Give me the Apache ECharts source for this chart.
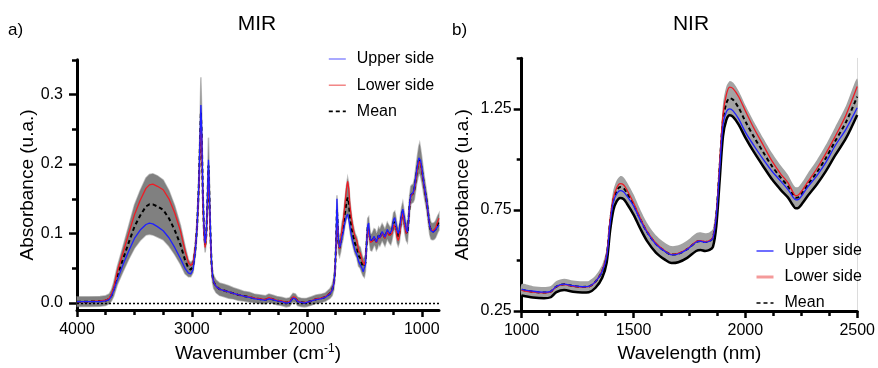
<!DOCTYPE html>
<html>
<head>
<meta charset="utf-8">
<script src="https://cdn.jsdelivr.net/npm/echarts@6/dist/echarts.min.js"></script>
<style>html,body{margin:0;padding:0;background:#fff}#c{width:878px;height:368px}</style>
</head>
<body>
<div id="c"></div>
<script>
// ---------- MIR data ----------
const mirWn = [4000,3900,3800,3750,3720,3700,3680,3650,3600,3550,3500,3450,3400,3370,3340,3300,3250,3200,3150,3100,3060,3030,3010,2990,2970,2955,2940,2930,2922,2915,2905,2895,2885,2875,2865,2856,2848,2840,2830,2820,2810,2790,2760,2720,2680,2640,2600,2550,2500,2450,2400,2360,2330,2300,2260,2220,2180,2150,2120,2100,2080,2050,2020,2000,1960,1920,1880,1840,1800,1780,1765,1755,1745,1738,1732,1725,1715,1705,1695,1685,1670,1655,1645,1635,1625,1610,1595,1580,1565,1550,1535,1520,1510,1500,1490,1480,1470,1462,1455,1445,1435,1425,1415,1405,1395,1385,1375,1365,1355,1345,1335,1320,1310,1300,1290,1280,1270,1260,1245,1235,1225,1215,1205,1195,1185,1175,1165,1155,1145,1135,1125,1115,1105,1095,1085,1075,1065,1055,1045,1035,1025,1018,1010,1000,990,980,970,960,950,940,930,920,910,900,890,880,870,860,850];
const mirUpper = [0.002,0.002,0.002,0.003,0.005,0.010,0.018,0.033,0.055,0.075,0.093,0.105,0.113,0.115,0.114,0.110,0.104,0.094,0.080,0.064,0.050,0.043,0.042,0.048,0.075,0.110,0.170,0.235,0.285,0.250,0.160,0.110,0.086,0.100,0.150,0.206,0.160,0.110,0.060,0.038,0.030,0.024,0.020,0.018,0.016,0.014,0.012,0.010,0.008,0.006,0.005,0.004,0.006,0.005,0.003,0.002,0.000,0.001,0.007,0.006,0.002,0.001,0.000,0.001,0.003,0.005,0.006,0.008,0.013,0.018,0.028,0.045,0.090,0.150,0.120,0.090,0.080,0.085,0.095,0.100,0.115,0.125,0.128,0.120,0.110,0.095,0.085,0.075,0.070,0.060,0.058,0.050,0.045,0.044,0.055,0.085,0.112,0.115,0.100,0.090,0.088,0.092,0.096,0.095,0.088,0.092,0.098,0.094,0.098,0.103,0.100,0.095,0.100,0.106,0.103,0.100,0.098,0.105,0.120,0.123,0.115,0.105,0.100,0.105,0.118,0.128,0.135,0.125,0.115,0.106,0.102,0.120,0.145,0.156,0.158,0.159,0.165,0.178,0.190,0.200,0.209,0.211,0.205,0.195,0.182,0.170,0.160,0.150,0.138,0.123,0.110,0.104,0.103,0.102,0.103,0.105,0.108,0.110,0.112];
const mirLower = [0.002,0.002,0.003,0.004,0.007,0.013,0.022,0.045,0.072,0.100,0.127,0.148,0.165,0.170,0.171,0.168,0.163,0.150,0.130,0.104,0.075,0.058,0.054,0.058,0.080,0.110,0.165,0.220,0.265,0.235,0.150,0.100,0.080,0.095,0.140,0.190,0.150,0.100,0.058,0.037,0.030,0.024,0.020,0.018,0.016,0.014,0.012,0.010,0.009,0.007,0.006,0.005,0.008,0.006,0.004,0.003,0.001,0.002,0.009,0.008,0.003,0.001,0.001,0.001,0.003,0.006,0.007,0.009,0.014,0.019,0.028,0.045,0.085,0.125,0.110,0.085,0.078,0.090,0.105,0.115,0.140,0.165,0.175,0.165,0.140,0.120,0.105,0.095,0.090,0.075,0.072,0.062,0.058,0.055,0.062,0.085,0.108,0.110,0.095,0.087,0.086,0.090,0.095,0.093,0.087,0.090,0.097,0.093,0.097,0.102,0.098,0.093,0.098,0.103,0.100,0.097,0.095,0.100,0.113,0.115,0.107,0.095,0.090,0.095,0.110,0.122,0.130,0.118,0.108,0.100,0.098,0.118,0.142,0.153,0.156,0.157,0.162,0.173,0.185,0.195,0.204,0.205,0.200,0.190,0.180,0.168,0.158,0.148,0.136,0.122,0.110,0.105,0.104,0.104,0.105,0.108,0.113,0.118,0.122];
const mirMean = [0.002,0.002,0.0025,0.0035,0.006,0.011,0.020,0.039,0.063,0.087,0.110,0.126,0.139,0.142,0.142,0.139,0.134,0.122,0.105,0.084,0.062,0.050,0.048,0.053,0.078,0.110,0.168,0.228,0.275,0.242,0.155,0.105,0.083,0.098,0.145,0.198,0.155,0.105,0.059,0.0375,0.030,0.024,0.020,0.018,0.016,0.014,0.012,0.010,0.0085,0.0065,0.0055,0.0045,0.007,0.0055,0.0035,0.0025,0.0005,0.0015,0.008,0.007,0.0025,0.001,0.0005,0.001,0.003,0.0055,0.0065,0.0085,0.0135,0.0185,0.028,0.045,0.088,0.135,0.113,0.087,0.079,0.087,0.100,0.107,0.128,0.145,0.152,0.145,0.125,0.107,0.095,0.085,0.080,0.068,0.065,0.056,0.052,0.050,0.058,0.085,0.110,0.112,0.098,0.088,0.087,0.091,0.095,0.094,0.088,0.091,0.097,0.094,0.098,0.102,0.099,0.094,0.099,0.104,0.101,0.098,0.096,0.102,0.117,0.119,0.111,0.100,0.095,0.100,0.114,0.125,0.132,0.121,0.111,0.103,0.100,0.119,0.143,0.155,0.157,0.158,0.163,0.175,0.187,0.197,0.206,0.208,0.202,0.192,0.181,0.169,0.159,0.149,0.137,0.122,0.110,0.104,0.103,0.103,0.104,0.106,0.110,0.114,0.117];
const mirSd = [0.007,0.007,0.007,0.007,0.007,0.008,0.010,0.013,0.018,0.024,0.031,0.036,0.041,0.043,0.044,0.044,0.043,0.040,0.035,0.028,0.020,0.012,0.010,0.009,0.010,0.012,0.018,0.028,0.050,0.035,0.020,0.012,0.010,0.010,0.015,0.040,0.025,0.012,0.010,0.009,0.009,0.009,0.009,0.009,0.009,0.008,0.008,0.007,0.007,0.006,0.006,0.006,0.006,0.006,0.006,0.006,0.006,0.006,0.006,0.006,0.006,0.006,0.006,0.006,0.006,0.006,0.006,0.006,0.007,0.008,0.009,0.010,0.012,0.020,0.020,0.015,0.012,0.013,0.015,0.015,0.018,0.024,0.028,0.026,0.022,0.018,0.016,0.015,0.015,0.015,0.015,0.013,0.013,0.013,0.012,0.012,0.012,0.012,0.012,0.012,0.012,0.012,0.012,0.012,0.012,0.012,0.012,0.012,0.012,0.012,0.012,0.012,0.012,0.012,0.012,0.012,0.012,0.012,0.013,0.013,0.013,0.013,0.013,0.013,0.013,0.013,0.013,0.013,0.013,0.013,0.013,0.013,0.013,0.013,0.013,0.013,0.014,0.015,0.016,0.018,0.020,0.022,0.020,0.018,0.016,0.015,0.014,0.013,0.013,0.012,0.012,0.012,0.012,0.012,0.012,0.012,0.012,0.012,0.012];

// ---------- NIR data ----------
const nirWl = [1000,1050,1100,1130,1155,1190,1230,1270,1300,1330,1360,1380,1395,1410,1425,1440,1455,1470,1500,1530,1560,1600,1640,1670,1700,1740,1780,1800,1820,1840,1855,1870,1885,1900,1915,1930,1945,1970,2000,2040,2080,2120,2160,2190,2212,2225,2238,2255,2280,2320,2360,2400,2450,2500];
const nirUpper = [0.357,0.348,0.343,0.347,0.372,0.383,0.375,0.370,0.372,0.395,0.445,0.520,0.680,0.790,0.830,0.845,0.840,0.820,0.770,0.700,0.640,0.580,0.545,0.528,0.532,0.555,0.590,0.595,0.590,0.595,0.610,0.720,0.950,1.170,1.235,1.250,1.240,1.200,1.135,1.065,1.000,0.940,0.890,0.852,0.815,0.800,0.802,0.825,0.865,0.920,0.985,1.065,1.150,1.255];
const nirLower = [0.352,0.343,0.340,0.345,0.370,0.381,0.372,0.368,0.370,0.395,0.450,0.530,0.700,0.810,0.860,0.880,0.875,0.850,0.785,0.710,0.645,0.585,0.548,0.530,0.535,0.558,0.593,0.598,0.593,0.598,0.615,0.730,0.980,1.220,1.320,1.357,1.350,1.310,1.240,1.150,1.070,0.990,0.925,0.885,0.840,0.820,0.825,0.848,0.890,0.955,1.030,1.110,1.220,1.360];
const nirMean = [0.355,0.345,0.341,0.346,0.371,0.382,0.373,0.369,0.371,0.395,0.447,0.525,0.690,0.800,0.845,0.863,0.858,0.835,0.777,0.705,0.642,0.582,0.546,0.529,0.533,0.556,0.591,0.596,0.591,0.596,0.612,0.725,0.965,1.195,1.278,1.303,1.295,1.255,1.188,1.108,1.035,0.965,0.907,0.868,0.827,0.810,0.813,0.836,0.877,0.937,1.007,1.087,1.185,1.310];
const nirSd = [0.028,0.028,0.028,0.028,0.028,0.028,0.028,0.028,0.028,0.030,0.032,0.035,0.045,0.050,0.052,0.054,0.054,0.053,0.050,0.047,0.045,0.043,0.042,0.042,0.042,0.043,0.044,0.044,0.044,0.044,0.045,0.055,0.070,0.080,0.083,0.085,0.085,0.083,0.080,0.075,0.070,0.065,0.060,0.056,0.053,0.052,0.052,0.053,0.056,0.060,0.065,0.070,0.080,0.090];

// ---------- ticks ----------
const mirXTicks = [1000,2000,3000,4000];
const mirXMinor = [1250,1500,1750,2250,2500,2750,3250,3500,3750];
const mirYTicks = [0,0.1,0.2,0.3];
const mirYMinor = [0.05,0.15,0.25,0.35];
const nirXTicks = [1000,1500,2000,2500];
const nirXMinor = [1125,1250,1375,1625,1750,1875,2125,2250,2375];
const nirYTicks = [0.25,0.75,1.25];
const nirYMinor = [0.5,1.0,1.5];

const FONT = '"Liberation Sans", Arial, Helvetica, sans-serif';
const BLUE = '#1f1fff', RED = '#ee1c25';

function zip(xs, ys){ return xs.map((x,i)=>[x, ys[i]]); }

function band(xs, mean, sd, xi, yi, fill, stroke){
  return {
    type:'custom', name:'band', xAxisIndex:xi, yAxisIndex:yi, silent:true, z:1,
    data:[[xs[0], mean[0]]],
    renderItem:function(params, api){
      const top = xs.map((x,i)=>api.coord([x, mean[i]+sd[i]]));
      const bot = xs.map((x,i)=>api.coord([x, mean[i]-sd[i]])).reverse();
      return {type:'polygon', shape:{points:top.concat(bot), smooth: stroke ? 0 : 0.25},
        style:{fill:fill, stroke:stroke, lineWidth:stroke?1.5:0}};
    }
  };
}

function mainX(grid, min, max, inverse, ticks, name, nameStyle){
  return {type:'value', gridIndex:grid, min:min, max:max, inverse:inverse, position:'bottom',
    name:name, nameLocation:'middle', nameGap:33, nameTextStyle:nameStyle,
    axisLine:{show:true, onZero:false, lineStyle:{color:'#000', width:3}},
    axisTick:{show:true, customValues:ticks, length:7, lineStyle:{color:'#000', width:2.5}},
    axisLabel:{customValues:ticks, fontSize:16, color:'#000', margin:12, fontFamily:FONT,
      formatter:function(v){return String(v);}},
    splitLine:{show:false}};
}
function minorX(grid, min, max, inverse, ticks){
  return {type:'value', gridIndex:grid, min:min, max:max, inverse:inverse, position:'bottom',
    axisLine:{show:false, onZero:false},
    axisTick:{show:true, customValues:ticks, length:5, lineStyle:{color:'#000', width:2.5}},
    axisLabel:{show:false}, splitLine:{show:false}};
}
function mainY(grid, min, max, ticks, dec, name, gap, margin){
  return {type:'value', gridIndex:grid, min:min, max:max, position:'left',
    name:name, nameLocation:'middle', nameGap:gap, nameRotate:90,
    nameTextStyle:{fontSize:19, color:'#000', fontFamily:FONT},
    axisLine:{show:true, onZero:false, lineStyle:{color:'#000', width:3}},
    axisTick:{show:true, customValues:ticks, length:8, lineStyle:{color:'#000', width:2.5}},
    axisLabel:{customValues:ticks, fontSize:16, color:'#000', margin:margin, fontFamily:FONT,
      formatter:function(v){return v.toFixed(dec);}},
    splitLine:{show:false}};
}
function minorY(grid, min, max, ticks){
  return {type:'value', gridIndex:grid, min:min, max:max, position:'left',
    axisLine:{show:false, onZero:false},
    axisTick:{show:true, customValues:ticks, length:5, lineStyle:{color:'#000', width:2.5}},
    axisLabel:{show:false}, splitLine:{show:false}};
}

const chart = echarts.init(document.getElementById('c'), null, {renderer:'canvas'});
const legendCommon = {orient:'vertical', padding:0, itemWidth:17, itemHeight:14,
  itemStyle:{opacity:0, borderWidth:0},
  textStyle:{fontSize:16, color:'#000', fontFamily:FONT, padding:[0,0,0,6]}};
const option = {
  animation:false,
  backgroundColor:'#fff',
  textStyle:{fontFamily:FONT},
  grid:[
    {left:77, top:59.8, width:362, height:254.6},
    {left:521.7, top:58.3, width:338.3, height:256.4}
  ],
  xAxis:[
    mainX(0, 850, 4000, true, mirXTicks, 'Wavenumber (cm{sup|-1})',
      {fontSize:19, color:'#000', fontFamily:FONT, rich:{sup:{fontSize:12, verticalAlign:'top', padding:[0,0,9,0], color:'#000', fontFamily:FONT}}}),
    minorX(0, 850, 4000, true, mirXMinor),
    mainX(1, 1000, 2500, false, nirXTicks, 'Wavelength (nm)', {fontSize:19, color:'#000', fontFamily:FONT}),
    minorX(1, 1000, 2500, false, nirXMinor)
  ],
  yAxis:[
    mainY(0, -0.01, 0.35, mirYTicks, 1, 'Absorbance (u.a.)', 40, 14),
    minorY(0, -0.01, 0.35, mirYMinor),
    mainY(1, 0.25, 1.5, nirYTicks, 2, 'Absorbance (u.a.)', 49, 10),
    minorY(1, 0.25, 1.5, nirYMinor),
    {type:'value', gridIndex:1, min:0.25, max:1.5, position:'right',
      axisLine:{show:true, onZero:false, lineStyle:{color:'#dcdcdc', width:1}},
      axisTick:{show:false}, axisLabel:{show:false}, splitLine:{show:false}}
  ],
  legend:[
    Object.assign({}, legendCommon, {left:328, top:51, itemGap:10.2,
      data:[{name:'Upper side', lineStyle:{color:'#7b7bff', width:1.3}},
            {name:'Lower side', lineStyle:{color:'#f07272', width:1.3}},
            {name:'Mean', lineStyle:{color:'#000', width:1.6, type:[4,3]}}]}),
    Object.assign({}, legendCommon, {left:755, top:243, itemGap:10,
      data:[{name:'Upper side', lineStyle:{color:'#1f1fff', width:1.3}},
            {name:'Lower side', lineStyle:{color:'#f49a9a', width:3}},
            {name:'Mean', lineStyle:{color:'#000', width:1.6, type:[4,3]}}]})
  ],
  graphic:[
    {type:'text', x:257, y:24, style:{text:'MIR', font:'21px '+FONT, fill:'#000', textAlign:'center', textVerticalAlign:'middle'}},
    {type:'text', x:691, y:24, style:{text:'NIR', font:'21px '+FONT, fill:'#000', textAlign:'center', textVerticalAlign:'middle'}},
    {type:'text', x:8, y:30, style:{text:'a)', font:'17px '+FONT, fill:'#000', textAlign:'left', textVerticalAlign:'middle'}},
    {type:'text', x:452, y:30, style:{text:'b)', font:'17px '+FONT, fill:'#000', textAlign:'left', textVerticalAlign:'middle'}}
  ],
  series:[
    band(mirWn, mirMean, mirSd, 0, 0, '#808080', 'rgba(128,128,128,0.5)'),
    {type:'line', name:'Mean', xAxisIndex:0, yAxisIndex:0, data:zip(mirWn, mirMean), symbol:'none', z:3,
     lineStyle:{color:'#000', width:2, type:[4,3]}, itemStyle:{color:'#000'},
     markLine:{silent:true, symbol:['none','none'], label:{show:false}, animation:false,
       lineStyle:{color:'#000', width:1.3, type:[2,2]}, data:[{yAxis:0}]}},
    {type:'line', name:'Lower side', xAxisIndex:0, yAxisIndex:0, data:zip(mirWn, mirLower), symbol:'none', z:4,
     lineStyle:{color:RED, width:1.3}, itemStyle:{color:RED}},
    {type:'line', name:'Upper side', xAxisIndex:0, yAxisIndex:0, data:zip(mirWn, mirUpper), symbol:'none', z:5,
     lineStyle:{color:BLUE, width:1.3}, itemStyle:{color:BLUE}},

    band(nirWl, nirMean, nirSd, 2, 2, '#a3a3a3', null),
    {type:'line', name:'band edge', xAxisIndex:2, yAxisIndex:2, symbol:'none', z:2, smooth:0.3,
     data:nirWl.map((x,i)=>[x, nirMean[i]-nirSd[i]]), lineStyle:{color:'#000', width:2.5}},
    {type:'line', name:'Mean', xAxisIndex:2, yAxisIndex:2, data:zip(nirWl, nirMean), symbol:'none', z:3, smooth:0.3,
     lineStyle:{color:'#000', width:2, type:[4,3]}, itemStyle:{color:'#000'}},
    {type:'line', name:'Lower side', xAxisIndex:2, yAxisIndex:2, data:zip(nirWl, nirLower), symbol:'none', z:4, smooth:0.3,
     lineStyle:{color:RED, width:1.3}, itemStyle:{color:RED}},
    {type:'line', name:'Upper side', xAxisIndex:2, yAxisIndex:2, data:zip(nirWl, nirUpper), symbol:'none', z:5, smooth:0.3,
     lineStyle:{color:BLUE, width:1.3}, itemStyle:{color:BLUE}}
  ]
};
chart.setOption(option);
</script>
</body>
</html>
